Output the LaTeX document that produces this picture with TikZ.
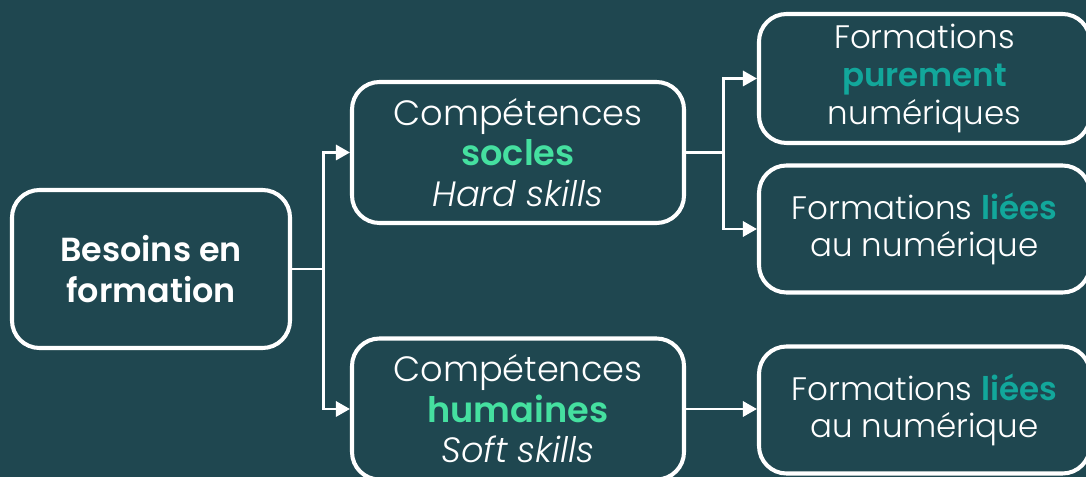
\documentclass[tikz,border=0pt]{standalone}
\usepackage{fontspec}
\setmainfont{Poppins}[UprightFont=* Light, ItalicFont=* Light Italic, BoldFont=* SemiBold]
\usetikzlibrary{arrows.meta}

\definecolor{bgteal}{HTML}{1F4750}
\definecolor{mint}{HTML}{45E0A0}
\definecolor{deepteal}{HTML}{12A79B}

\begin{document}
\begin{tikzpicture}[block/.style={draw=white, line width=2.3pt, rounded corners=0.55cm, align=center, text=white, inner sep=0pt, font=\fontsize{20}{23}\selectfont},
  link/.style={draw=white, line width=1.7pt, -{Triangle[length=0.28cm, width=0.3cm]}}]

  \fill[bgteal] (0,0) rectangle (21.72,-9.54);
  \useasboundingbox (0,0) rectangle (21.72,-9.54);

  % First column
  \node[block, minimum width=5.56cm, minimum height=3.16cm, font=\fontsize{19}{23}\selectfont\bfseries] (need) at (3.02,-5.38) {Besoins en\\formation};

  % Second column
  \node[block, minimum width=6.64cm, minimum height=2.82cm] (hard) at (10.36,-3.05) {Compétences\\\textcolor{mint}{\textbf{socles}}\\\textit{Hard skills}};
  \node[block, minimum width=6.64cm, minimum height=2.82cm] (soft) at (10.36,-8.18) {Compétences\\\textcolor{mint}{\textbf{humaines}}\\\textit{Soft skills}};

  % Third column
  \node[block, minimum width=6.62cm, minimum height=2.58cm, font=\fontsize{18.5}{21.5}\selectfont] (pure) at (18.49,-1.57) {Formations\\\textcolor{deepteal}{\textbf{purement}}\\numériques};
  \node[block, minimum width=6.62cm, minimum height=2.54cm, font=\fontsize{18.5}{21.5}\selectfont] (linked1) at (18.49,-4.58) {Formations \textcolor{deepteal}{\textbf{liées}}\\au numérique};
  \node[block, minimum width=6.62cm, minimum height=2.54cm, font=\fontsize{18.5}{21.5}\selectfont] (linked2) at (18.49,-8.2) {Formations \textcolor{deepteal}{\textbf{liées}}\\au numérique};

  % Connectors
  \draw[link] (need.east) -- ++(0.62,0) |- (hard.west);
  \draw[link] (need.east) -- ++(0.62,0) |- (soft.west);
  \draw[link] (hard.east) -- ++(0.74,0) |- (pure.west);
  \draw[link] (hard.east) -- ++(0.74,0) |- (linked1.west);
  \draw[link] (soft.east) -- (soft.east -| linked2.west);

\end{tikzpicture}
\end{document}
